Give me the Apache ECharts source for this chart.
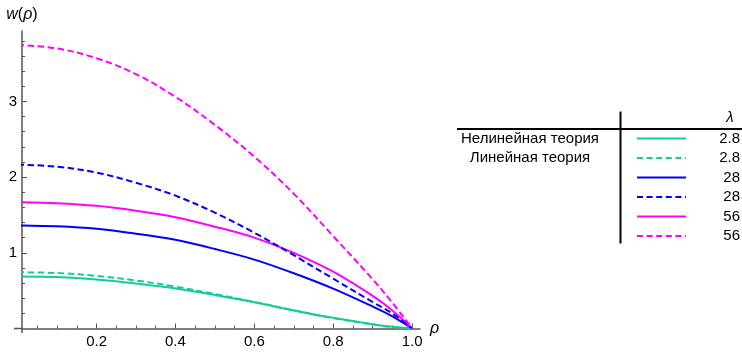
<!DOCTYPE html>
<html>
<head>
<meta charset="utf-8">
<script src="https://cdn.jsdelivr.net/npm/echarts@6/dist/echarts.min.js"></script>
<style>
  html, body { margin: 0; padding: 0; background: #fff; }
  #chart { width: 742px; height: 353px; }
</style>
</head>
<body>
<div id="chart"></div>
<script>
// Radial coordinate of the plate
const rho = [0, 0.1, 0.2, 0.3, 0.4, 0.5, 0.6, 0.7, 0.8, 0.9, 0.95, 1.0];

// Deflection w(rho): nonlinear and linear theory for three loads lambda
const wNonlin_2_8 = [0.688, 0.679, 0.647, 0.594, 0.529, 0.442, 0.346, 0.239, 0.141, 0.056, 0.022, 0];
const wLin_2_8    = [0.742, 0.733, 0.695, 0.634, 0.553, 0.456, 0.350, 0.240, 0.138, 0.054, 0.020, 0];
const wNonlin_28  = [1.362, 1.350, 1.318, 1.253, 1.171, 1.050, 0.910, 0.730, 0.527, 0.290, 0.160, 0];
const wLin_28     = [2.165, 2.138, 2.060, 1.925, 1.755, 1.530, 1.265, 0.968, 0.658, 0.350, 0.198, 0];
const wNonlin_56  = [1.668, 1.655, 1.620, 1.555, 1.470, 1.345, 1.200, 1.000, 0.750, 0.430, 0.237, 0];
const wLin_56     = [3.745, 3.700, 3.570, 3.360, 3.060, 2.690, 2.270, 1.780, 1.220, 0.650, 0.340, 0];

const lambdaLabels = ['2.8', '2.8', '28', '28', '56', '56'];
const theoryLabels = ['Нелинейная теория', 'Линейная теория'];

const xMajorTicks = [0.2, 0.4, 0.6, 0.8, 1.0];
const xMinorTicks = [0.05, 0.1, 0.15, 0.25, 0.3, 0.35, 0.45, 0.5, 0.55, 0.65, 0.7, 0.75, 0.85, 0.9, 0.95];
const yMajorTicks = [1, 2, 3];
const yMinorTicks = [0.2, 0.4, 0.6, 0.8, 1.2, 1.4, 1.6, 1.8, 2.2, 2.4, 2.6, 2.8, 3.2, 3.4, 3.6, 3.8];

const FONT = '"Liberation Sans", Arial, sans-serif';
const GREEN = '#14CC9A', BLUE = '#0000FF', MAGENTA = '#FF00FF';
const AXIS = '#555555';

const curves = [
  { values: wNonlin_2_8, color: GREEN,   dashed: false },
  { values: wLin_2_8,    color: GREEN,   dashed: true  },
  { values: wNonlin_28,  color: BLUE,    dashed: false },
  { values: wLin_28,     color: BLUE,    dashed: true  },
  { values: wNonlin_56,  color: MAGENTA, dashed: false },
  { values: wLin_56,     color: MAGENTA, dashed: true  }
];

const series = curves.map(c => ({
  type: 'line',
  xAxisIndex: 0,
  yAxisIndex: 0,
  data: rho.map((r, i) => [r, c.values[i]]),
  smooth: 0.35,
  showSymbol: false,
  clip: true,
  lineStyle: { color: c.color, width: 2, type: c.dashed ? [6.5, 3.5] : 'solid' },
  z: c.dashed ? 3 : 2
}));

// Legend table on the right
const tableGraphics = [
  { type: 'line', shape: { x1: 620.5, y1: 111.5, x2: 620.5, y2: 243.5 }, style: { stroke: '#000', lineWidth: 2 } },
  { type: 'line', shape: { x1: 457, y1: 129, x2: 742, y2: 129 }, style: { stroke: '#000', lineWidth: 2 } },
  { type: 'text', x: 730, y: 118, style: { text: 'λ', font: 'italic 15px ' + FONT, fill: '#000', align: 'center', verticalAlign: 'middle' } }
];
curves.forEach((c, i) => {
  const y = 138.5 + 19.5 * i;
  if (i < theoryLabels.length) {
    tableGraphics.push({ type: 'text', x: 530, y: y, style: { text: theoryLabels[i], font: '15px ' + FONT, fill: '#000', align: 'center', verticalAlign: 'middle' } });
  }
  tableGraphics.push({ type: 'line', shape: { x1: 637, y1: y, x2: 686, y2: y },
    style: { stroke: c.color, lineWidth: 2, lineDash: c.dashed ? [6, 3.6] : null } });
  tableGraphics.push({ type: 'text', x: 740, y: y, style: { text: lambdaLabels[i], font: '15px ' + FONT, fill: '#000', align: 'right', verticalAlign: 'middle' } });
});

// Small overhang where the two axes cross
const axisGraphics = [
  { type: 'line', shape: { x1: 14, y1: 328.5, x2: 22, y2: 328.5 }, style: { stroke: AXIS, lineWidth: 1.5 } },
  { type: 'line', shape: { x1: 22, y1: 328, x2: 22, y2: 333 }, style: { stroke: AXIS, lineWidth: 1.5 } }
];

const chart = echarts.init(document.getElementById('chart'), null, { renderer: 'canvas' });
chart.setOption({
  animation: false,
  backgroundColor: '#fff',
  textStyle: { fontFamily: FONT },
  grid: { left: 22, right: 322, top: 31, bottom: 24.5, containLabel: false },
  xAxis: [
    {
      type: 'value', min: 0.011, max: 1.02, position: 'bottom',
      axisLine: { onZero: false, lineStyle: { color: AXIS, width: 1.5 } },
      axisTick: { inside: true, length: 5, customValues: xMajorTicks, lineStyle: { color: AXIS, width: 1 } },
      axisLabel: { customValues: xMajorTicks, formatter: v => v.toFixed(1), color: '#000', fontSize: 15, fontFamily: FONT, margin: 6 },
      splitLine: { show: false },
      name: 'ρ', nameLocation: 'end', nameGap: 10,
      nameTextStyle: { fontFamily: FONT, fontStyle: 'italic', fontSize: 16, color: '#000', padding: [16, 0, 0, 0] }
    },
    {
      type: 'value', min: 0.011, max: 1.02, position: 'bottom',
      axisLine: { show: false, onZero: false },
      axisTick: { inside: true, length: 3, customValues: xMinorTicks, lineStyle: { color: AXIS, width: 1 } },
      axisLabel: { show: false },
      splitLine: { show: false }
    }
  ],
  yAxis: [
    {
      type: 'value', min: 0, max: 3.93, position: 'left',
      axisLine: { onZero: false, lineStyle: { color: AXIS, width: 1.5 } },
      axisTick: { inside: true, length: 5, customValues: yMajorTicks, lineStyle: { color: AXIS, width: 1 } },
      axisLabel: { customValues: yMajorTicks, color: '#000', fontSize: 15, fontFamily: FONT, margin: 5 },
      splitLine: { show: false },
      name: '{i|w}({i|ρ})', nameLocation: 'end', nameGap: 8,
      nameTextStyle: {
        fontFamily: FONT, fontSize: 16, color: '#000', align: 'center',
        rich: { i: { fontFamily: FONT, fontSize: 16, fontStyle: 'italic', color: '#000' } }
      }
    },
    {
      type: 'value', min: 0, max: 3.93, position: 'left',
      axisLine: { show: false, onZero: false },
      axisTick: { inside: true, length: 3, customValues: yMinorTicks, lineStyle: { color: AXIS, width: 1 } },
      axisLabel: { show: false },
      splitLine: { show: false }
    }
  ],
  series: series,
  graphic: { elements: axisGraphics.concat(tableGraphics) }
});
</script>
</body>
</html>
